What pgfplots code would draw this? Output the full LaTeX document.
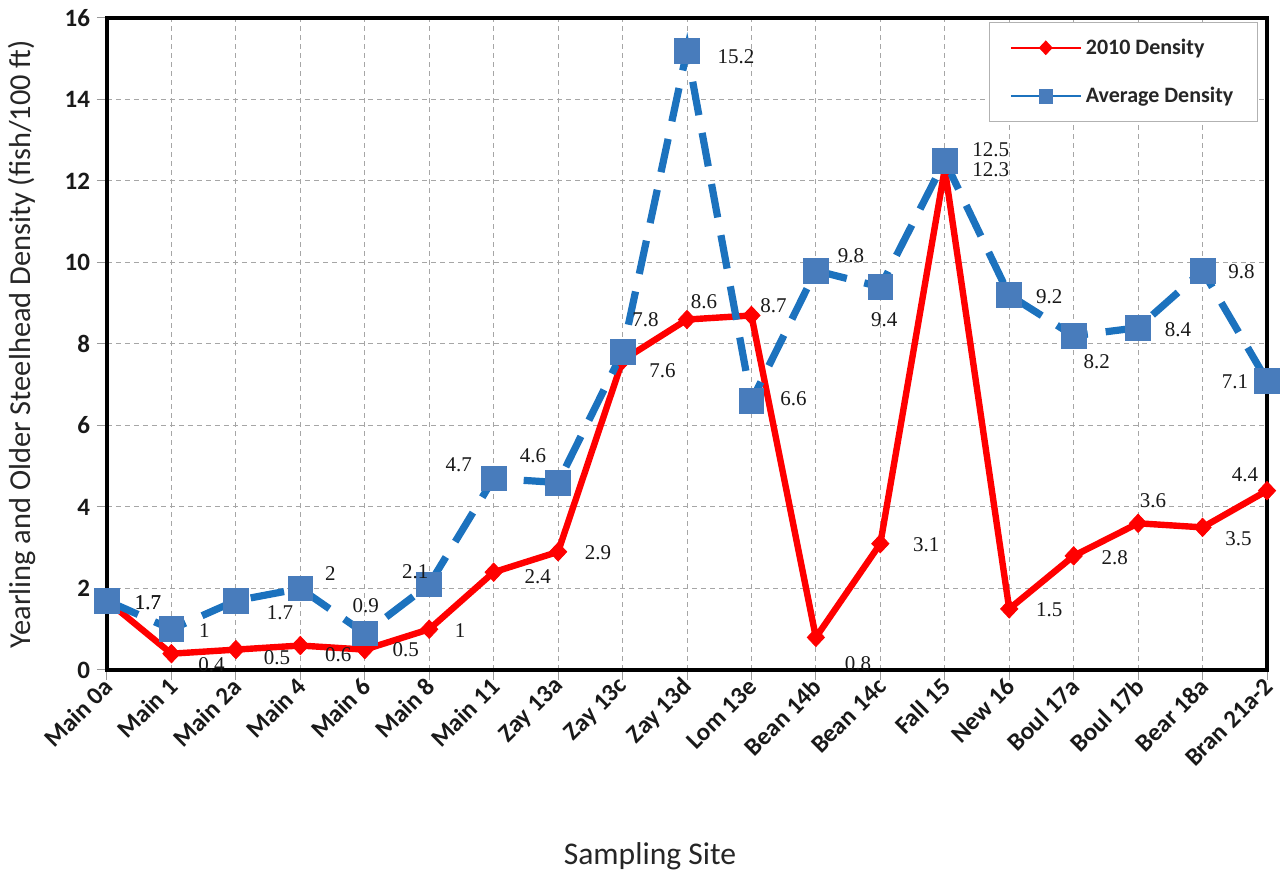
\documentclass[border=0pt]{standalone}
\usepackage{fontspec}
\setmainfont{Carlito}
\newfontfamily\labfont{Liberation Serif}
\usepackage{pgfplots}
\usepackage{pgfplotstable}
\pgfplotsset{compat=1.18}
\definecolor{avgline}{RGB}{28,114,190}
\definecolor{avgmark}{RGB}{72,124,188}
\definecolor{redline}{RGB}{255,0,0}

\pgfplotstableread{
x y lab dx dy
0 1.7 1.7 20.5 -1
1 0.4 0.4 20 -5.5
2 0.5 0.5 20.5 -4
3 0.6 0.6 19 -4.5
4 0.5 0.5 20.5 0
5 1.0 1 15.5 -0.5
6 2.4 2.4 22 -2.5
7 2.9 2.9 20 -0.5
8 7.6 7.6 20 -5
9 8.6 8.6 8.5 9
10 8.7 8.7 11 5
11 0.8 0.8 21 -13
12 3.1 3.1 23 -0.5
13 12.3 12.3 23 -0.5
14 1.5 1.5 20 -0.5
15 2.8 2.8 20.5 -1
16 3.6 3.6 7.5 11.5
17 3.5 3.5 18 -5.5
18 4.4 4.4 -11 8
}\redtab

\pgfplotstableread{
x y lab dx dy
0 1.7 1.7 20.5 -1
1 1.0 1 16.5 -0.5
2 1.7 1.7 22 -6
3 2.0 2 15 7.5
4 0.9 0.9 0.5 14
5 2.1 2.1 -7 6.5
6 4.7 4.7 -17.5 7
7 4.6 4.6 -12.5 13.5
8 7.8 7.8 11.5 16
9 15.2 15.2 24.5 -3
10 6.6 6.6 21 1
11 9.8 9.8 17.5 7.5
12 9.4 9.4 2 -16.5
13 12.5 12.5 23 5.5
14 9.2 9.2 20 -1
15 8.2 8.2 11.5 -13
16 8.4 8.4 20 -1
17 9.8 9.8 19.5 -0.5
18 7.1 7.1 -16 -0.5
}\avgtab

\begin{document}
\begin{tikzpicture}
\path[use as bounding box] (-53.5pt,-103pt) rectangle (589pt,335pt);
\begin{axis}[
  at={(0pt,0pt)}, anchor=south west,
  scale only axis, width=580pt, height=326pt,
  xmin=0, xmax=18, ymin=0, ymax=16,
  xtick={0,...,18},
  xticklabels={Main 0a, Main 1, Main 2a, Main 4, Main 6, Main 8, Main 11, Zay 13a, Zay 13c, Zay 13d, Lom 13e, Bean 14b, Bean 14c, Fall 15, New 16, Boul 17a, Boul 17b, Bear 18a, Bran 21a-2},
  ytick={0,2,...,16},
  /pgf/number format/assume math mode=true,
  grid=major,
  grid style={gray!70, line width=0.5pt, dash pattern=on 2.5pt off 2pt},
  axis line style={line width=2pt, black},
  tick style={gray!80, line width=0.5pt},
  tick align=outside, major tick length=5pt,
  xtick pos=bottom, ytick pos=left,
  x tick label style={rotate=45, anchor=east, xshift=3pt, yshift=-1.5pt, font=\bfseries\fontsize{12.5}{13}\selectfont, text=black!90},
  y tick label style={font=\bfseries\fontsize{12.5}{13}\selectfont, text=black!90},
  xlabel={Sampling Site},
  ylabel={Yearling and Older Steelhead Density (fish/100 ft)},
  every axis x label/.style={at={(axis description cs:0.5,0)}, anchor=center, xshift=-18.5pt, yshift=-93pt, font=\fontsize{15.8}{17}\selectfont, text=black!85},
  every axis y label/.style={at={(axis description cs:-0.0733,0.5)}, anchor=center, rotate=90, font=\fontsize{15.2}{16}\selectfont, text=black!85},
  legend style={at={(axis description cs:0.9922,0.9939)}, anchor=north east, draw=gray!60, line width=0.6pt, fill=white, font=\bfseries\fontsize{11}{12}\selectfont, text=black!85, row sep=11pt, inner xsep=10pt, inner ysep=6pt},
  legend cell align=left,
  legend image code/.code={\draw[#1, solid, mark size=3.4pt, line width=1.1pt, mark repeat=2, mark phase=2] plot coordinates {(0pt,0pt) (17.5pt,0pt) (35pt,0pt)};},
]
\addplot[color=redline, line width=3.2pt, mark=diamond*, mark size=4.6pt,
  mark options={solid, fill=redline, draw=redline, line width=0.4pt, xscale=1.25}]
  table[x=x, y=y] {\redtab};
\addlegendentry{2010 Density}
\addplot[color=avgline, line width=3.6pt, dash pattern=on 17pt off 9pt, mark=square*, mark size=6.2pt,
  mark options={solid, fill=avgmark, draw=avgmark, line width=0.4pt}]
  table[x=x, y=y] {\avgtab};
\addlegendentry{Average Density}

\addplot[draw=none, mark=none, forget plot, point meta=explicit symbolic,
  visualization depends on={\thisrow{dx}\as\dx},
  visualization depends on={\thisrow{dy}\as\dy},
  nodes near coords,
  nodes near coords style={anchor=center, xshift=\dx pt, yshift=\dy pt, font=\labfont\fontsize{10.5}{11}\selectfont, text=black!90, inner sep=0pt}]
  table[x=x, y=y, meta=lab] {\redtab};
\addplot[draw=none, mark=none, forget plot, point meta=explicit symbolic,
  visualization depends on={\thisrow{dx}\as\dx},
  visualization depends on={\thisrow{dy}\as\dy},
  nodes near coords,
  nodes near coords style={anchor=center, xshift=\dx pt, yshift=\dy pt, font=\labfont\fontsize{10.5}{11}\selectfont, text=black!90, inner sep=0pt}]
  table[x=x, y=y, meta=lab] {\avgtab};
\end{axis}
\end{tikzpicture}
\end{document}
